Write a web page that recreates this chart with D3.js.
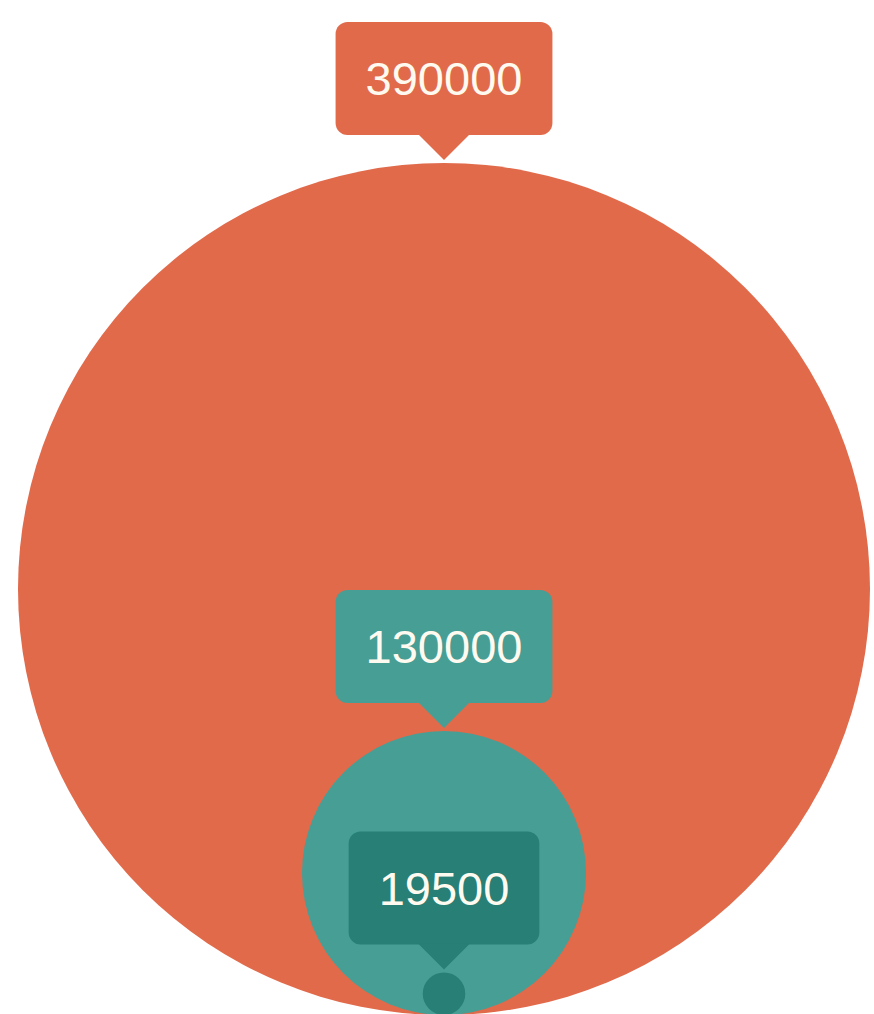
<!DOCTYPE html>
<html lang="en">
<head>
    <meta charset="UTF-8">
    <title>Nested Bubbles</title>
    <script src="https://d3js.org/d3.v7.min.js"></script>
    <style>
        body {
            margin: 0;
            background: #ffffff;
            font-family: "Liberation Sans", Arial, sans-serif;
        }
        svg { display: block; }
    </style>
</head>
<body>
    <svg id="chart"></svg>

    <script>
        // Values and colours of the nested circles (largest first)
        const labels = ["390000", "130000", "19500"];
        const values = [390000, 130000, 19500];
        const colors = ["#E16A4B", "#479E95", "#277F75"];

        const width = 874, height = 1014;
        const cx = 444, baseY = 1015;   // circles share this bottom point

        const svg = d3.select("#chart")
            .attr("width", width)
            .attr("height", height);

        // Radius proportional to value
        const r = d3.scaleLinear()
            .domain([0, d3.max(values)])
            .range([0, 426]);

        const data = values.map((v, i) => ({ value: v, label: labels[i], color: colors[i] }));

        // Draw circles
        svg.selectAll("circle")
            .data(data)
            .enter().append("circle")
            .attr("cx", cx)
            .attr("cy", d => baseY - r(d.value))
            .attr("r", d => r(d.value))
            .attr("fill", d => d.color);

        // Callout labels above each circle
        const boxH = 113, pad = 30, tipH = 25, tipW = 26, corner = 12, gap = 3;

        const callouts = svg.selectAll("g.callout")
            .data(data)
            .enter().append("g")
            .attr("class", "callout");

        callouts.each(function(d) {
            const g = d3.select(this);
            const tipY = baseY - 2 * r(d.value) - gap;
            const boxBottom = tipY - tipH;
            const boxTop = boxBottom - boxH;

            const text = g.append("text")
                .attr("x", cx)
                .attr("y", (boxTop + boxBottom) / 2)
                .attr("dy", "0.36em")
                .attr("text-anchor", "middle")
                .attr("font-size", "47px")
                .attr("fill", "#fffaf0")
                .text(d.label);

            const tw = text.node().getComputedTextLength();
            const bw = tw + pad * 2;

            g.insert("rect", "text")
                .attr("x", cx - bw / 2)
                .attr("y", boxTop)
                .attr("width", bw)
                .attr("height", boxH)
                .attr("rx", corner)
                .attr("fill", d.color);

            g.insert("path", "text")
                .attr("d", `M${cx - tipW},${boxBottom - 1} L${cx + tipW},${boxBottom - 1} L${cx},${tipY} Z`)
                .attr("fill", d.color);
        });
    </script>
</body>
</html>
